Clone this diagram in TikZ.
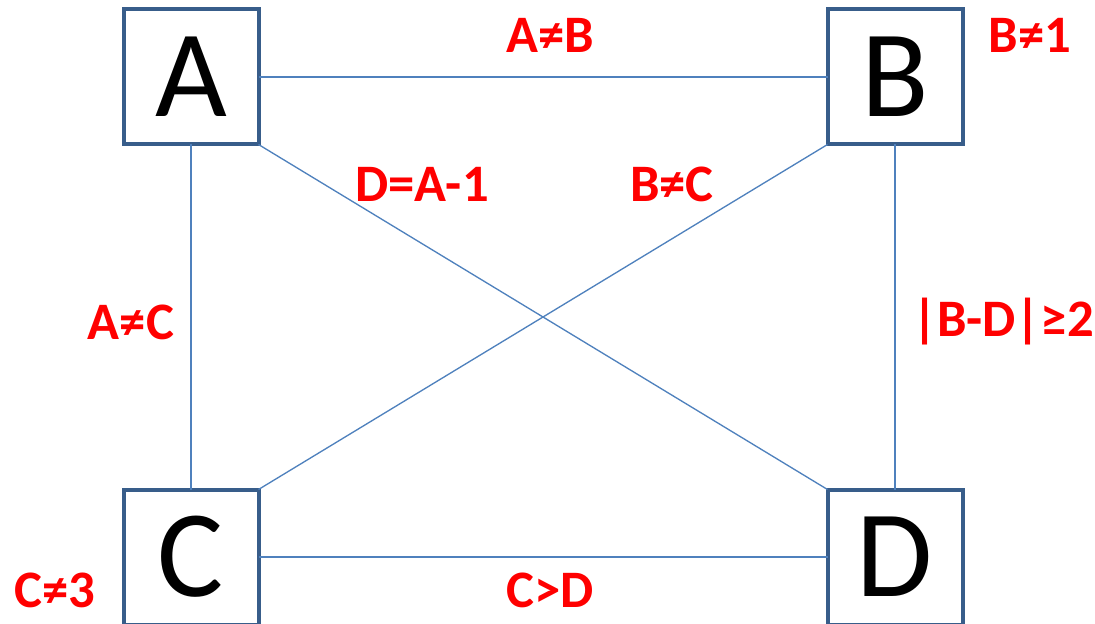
\documentclass[tikz,border=0pt]{standalone}
\usepackage{fontspec}
\setmainfont{Carlito}
\definecolor{boxblue}{RGB}{56,93,138}
\definecolor{edgeblue}{RGB}{79,129,189}
\tikzset{every picture/.style={line width=0.75pt}}
\tikzset{
  varbox/.style={draw=boxblue, line width=3pt, minimum size=101.25pt, inner sep=0pt, outer sep=0pt, font=\fontsize{93}{93}\selectfont},
  arcline/.style={draw=edgeblue, line width=1pt},
  cons/.style={text=red, inner sep=0.75pt, font=\fontsize{39.5}{39.5}\selectfont\bfseries}
}
\begin{document}
\begin{tikzpicture}[x=0.75pt,y=0.75pt,yscale=-1,xscale=1]
\useasboundingbox (0,0) rectangle (1095,624);

%Shape: Rectangle
\draw (191,77) node [varbox] (A) {A};
%Shape: Rectangle
\draw (895,77) node [varbox] (B) {B};
%Shape: Rectangle
\draw (191,557) node [varbox] (C) {C};
%Shape: Rectangle
\draw (895,557) node [varbox] (D) {D};

%Straight Lines
\draw [arcline] (A.east) -- (B.west) ;
%Straight Lines
\draw [arcline] (A.south) -- (C.north) ;
%Straight Lines
\draw [arcline] (A.south east) -- (D.north west) ;
%Straight Lines
\draw [arcline] (B.south west) -- (C.north east) ;
%Straight Lines
\draw [arcline] (B.south) -- (D.north) ;
%Straight Lines
\draw [arcline] (C.east) -- (D.west) ;

% Text Node
\draw (550,35) node [cons] (ab) {A≠B};
% Text Node
\draw (1030,35) node [cons] (b1) {B≠1};
% Text Node
\draw (422,184) node [cons] (da) {D=A-1};
% Text Node
\draw (672,184) node [cons] (bc) {B≠C};
% Text Node
\draw (131,322) node [cons] (ac) {A≠C};
% Text Node
\draw (1003,322) node [cons] (bd) {|B-D|≥2};
% Text Node
\draw (55,590) node [cons] (c3) {C≠3};
% Text Node
\draw (550,590) node [cons] (cd) {C>D};

\end{tikzpicture}
\end{document}
